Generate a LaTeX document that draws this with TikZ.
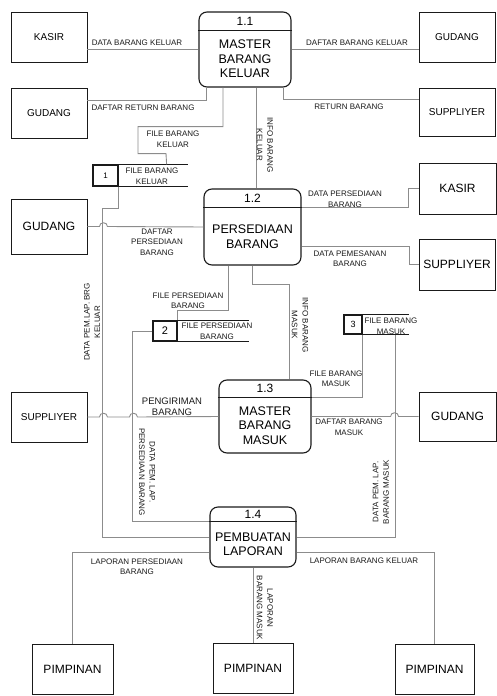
\documentclass[tikz,border=0pt]{standalone}
\usepackage{fontspec}
\setmainfont{Liberation Sans}
\usetikzlibrary{calc}
\definecolor{FlowGray}{HTML}{8C8C8C}
\definecolor{InkBlack}{HTML}{1A1A1A}
% process: name, position, width, height, header height, number, text
\newcommand{\procnode}[7]{%
  \node[proc, minimum width=#3, minimum height=#4] (#1) at (#2) {};
  \draw[procline] ($(#1.north west)+(0,#5)$) -- ($(#1.north east)+(0,#5)$);
  \node[pnum] (#1num) at ($(#1.north)+(0,#5/2)$) {#6};
  \node[ptext] (#1txt) at ($(#1.center)+(0,#5/2)$) {#7};}

\begin{document}
\begin{tikzpicture}[x=1pt, y=-1pt,
    ent/.style={draw=InkBlack, line width=0.9pt, minimum width=76, minimum height=50,
                inner sep=0pt, font=\fontsize{10}{12}\selectfont},
    entbig/.style={ent, font=\fontsize{12}{14}\selectfont},
    proc/.style={draw=InkBlack, line width=1.1pt, rounded corners=8pt, inner sep=0pt},
    procline/.style={draw=InkBlack, line width=1pt},
    pnum/.style={font=\fontsize{12}{14}\selectfont, inner sep=0pt},
    ptext/.style={font=\fontsize{12.5}{14.5}\selectfont, align=center, inner sep=0pt},
    storebox/.style={draw=InkBlack, line width=1.2pt, inner sep=0pt},
    storeline/.style={draw=InkBlack, line width=1.1pt},
    flow/.style={draw=FlowGray, line width=0.9pt},
    lbl/.style={font=\fontsize{8}{10.5}\selectfont, align=center, inner sep=0pt, text=InkBlack}
]
    \useasboundingbox (0,0) rectangle (497,696);

    % External entities
    \node[ent] (kasirA) at (49,37.5) {KASIR};
    \node[ent] (gudangA) at (49,113) {GUDANG};
    \node[ent] (gudangB) at (457,37) {GUDANG};
    \node[ent, minimum height=48] (supA) at (457,112) {SUPPLIYER};
    \node[entbig, minimum height=55] (gudangC) at (49,226.5) {GUDANG};
    \node[entbig, minimum width=77, minimum height=51] (kasirB) at (457.5,188.5) {KASIR};
    \node[entbig, minimum height=51] (supB) at (457,264.5) {SUPPLIYER};
    \node[ent] (supC) at (49,417) {SUPPLIYER};
    \node[entbig, minimum width=77, minimum height=49] (gudangD) at (457.5,416.5) {GUDANG};
    \node[entbig, minimum width=81] (pimA) at (72.5,669) {PIMPINAN};
    \node[entbig, minimum width=80] (pimB) at (253,668) {PIMPINAN};
    \node[entbig, minimum width=79] (pimC) at (434.5,669) {PIMPINAN};

    % Processes
    \procnode{p11}{245,49.5}{92}{75}{19}{1.1}{MASTER\\BARANG\\KELUAR}
    \procnode{p12}{252.5,227}{97}{76}{19}{1.2}{PERSEDIAAN\\BARANG}
    \procnode{p13}{265,416.5}{92}{73}{18}{1.3}{MASTER\\BARANG\\MASUK}
    \procnode{p14}{253,537}{86}{60}{15}{1.4}{PEMBUATAN\\LAPORAN}

    % Data stores
    \node[storebox, minimum width=25, minimum height=21, font=\fontsize{8}{10}\selectfont] (d1) at (105.5,175.5) {1};
    \draw[storeline] (d1.north west) -- ++(96,0);
    \draw[storeline] (d1.south west) -- ++(96,0);
    \node[lbl] (d1txt) at (152,176) {FILE BARANG\\KELUAR};

    \node[storebox, minimum width=24, minimum height=20, font=\fontsize{11}{13}\selectfont] (d2) at (165,331) {2};
    \draw[storeline] (d2.north west) -- ++(97,0);
    \draw[storeline] (d2.south west) -- ++(97,0);
    \node[lbl] (d2txt) at (217,331) {FILE PERSEDIAAN\\BARANG};

    \node[storebox, minimum width=18, minimum height=19, font=\fontsize{9}{11}\selectfont] (d3) at (353,324.5) {3};
    \draw[storeline] (d3.north west) -- ++(66,0);
    \draw[storeline] (d3.south west) -- ++(66,0);
    \node[lbl] (d3txt) at (391,326) {FILE BARANG\\MASUK};

    % Flows around 1.1
    \draw[flow] (kasirA.east |- p11.west) -- (p11.west);
    \node[lbl] (f1) at (137,43) {DATA BARANG KELUAR};
    \draw[flow] (p11.east) -- (gudangB.west |- p11.east);
    \node[lbl] (f2) at (357,43) {DAFTAR BARANG KELUAR};
    \draw[flow] ($(p11.south west)+(8,0)$) |- ($(gudangA.east)+(0,-13)$);
    \node[lbl] (f3) at (143,108) {DAFTAR RETURN BARANG};
    \draw[flow] ($(p11.south east)+(-8,0)$) |- ($(supA.west)+(0,-13)$);
    \node[lbl] (f4) at (349,107) {RETURN BARANG};
    \draw[flow] ($(p11.south)+(-22,0)$) -- ++(0,39) -- ++(-85,0) -- ++(0,27)
        -- ++(28,0) -- ($(d1.north east)+(48,0)$);
    \node[lbl] (f5) at (173,139) {FILE BARANG\\KELUAR};
    \draw[flow] ($(p11.south)+(11,0)$) coordinate (c6) -- (c6 |- p12.north);
    \node[lbl, rotate=-90] (f6) at (265,145) {INFO BARANG\\KELUAR};

    % Flows around 1.2
    \draw[flow] (d1.south east) -- ++(0,22) -| ($(p14.west)+(-107,0)$) -- (p14.west);
    \node[lbl, rotate=90] (f7) at (92,322) {DATA PEM.LAP. BRG\\KELUAR};
    \draw[flow] (gudangC.east) -- ++(12,0) .. controls +(0,-5) and +(0,-5) .. ++(8,0)
        -- (p12.west);
    \node[lbl] (f8) at (157,242) {DAFTAR\\PERSEDIAAN\\BARANG};
    \draw[flow] ($(p12.north east)+(0,19)$) -- ++(107,0) |- (kasirB.west);
    \node[lbl] (f9) at (345,199) {DATA PERSEDIAAN\\BARANG};
    \draw[flow] ($(p12.east)+(0,19)$) -- ++(108,0) |- (supB.west);
    \node[lbl] (f10) at (350,258.5) {DATA PEMESANAN\\BARANG};
    \draw[flow] ($(p12.south west)+(25,0)$) -- ++(0,45) -| (d2.north east);
    \node[lbl] (f11) at (188,300.5) {FILE PERSEDIAAN\\BARANG};
    \draw[flow] (p12.south) -- ++(0,19) -| ($(p13.north east)+(-22,0)$);
    \node[lbl, rotate=-90] (f12) at (300,325) {INFO BARANG\\MASUK};

    % Flows around 1.3
    \draw[flow] (d3.south east) |- ($(p13.north east)+(0,18)$);
    \node[lbl] (f13) at (336,378.5) {FILE BARANG\\MASUK};
    \draw[flow] (p13.east) -- ++(79,0) .. controls +(0,-5) and +(0,-5) .. ++(8,0)
        -- (gudangD.west);
    \node[lbl] (f14) at (349,427) {DAFTAR BARANG\\MASUK};
    \draw[flow] (supC.east) -- ++(12,0) .. controls +(0,-5) and +(0,-5) .. ++(8,0)
        -- ++(22,0) .. controls +(0,-5) and +(0,-5) .. ++(8,0) -- (p13.west);
    \node[lbl, font=\fontsize{9.5}{11}\selectfont] (f16) at (172,407) {PENGIRIMAN\\BARANG};
    \draw[flow] ($(d3.south east)+(33,0)$) |- (p14.east);
    \node[lbl, rotate=90] (f15) at (381,492) {DATA PEM. LAP.\\BARANG MASUK};
    \draw[flow] (d2.west) -- ++(-20,0) |- ($(p14.north west)+(0,15)$);
    \node[lbl, rotate=-90] (f17) at (147,472) {DATA PEM. LAP.\\PERSEDIAAN BARANG};

    % Flows around 1.4
    \draw[flow] ($(p14.west)+(0,15)$) -| (pimA.north);
    \node[lbl] (f18) at (137,566.5) {LAPORAN PERSEDIAAN\\BARANG};
    \draw[flow] (p14.south) -- (pimB.north);
    \node[lbl, rotate=-90] (f19) at (265,608) {LAPORAN\\BARANG MASUK};
    \draw[flow] ($(p14.east)+(0,15)$) -| (pimC.north);
    \node[lbl] (f20) at (364,561) {LAPORAN BARANG KELUAR};
\end{tikzpicture}
\end{document}
